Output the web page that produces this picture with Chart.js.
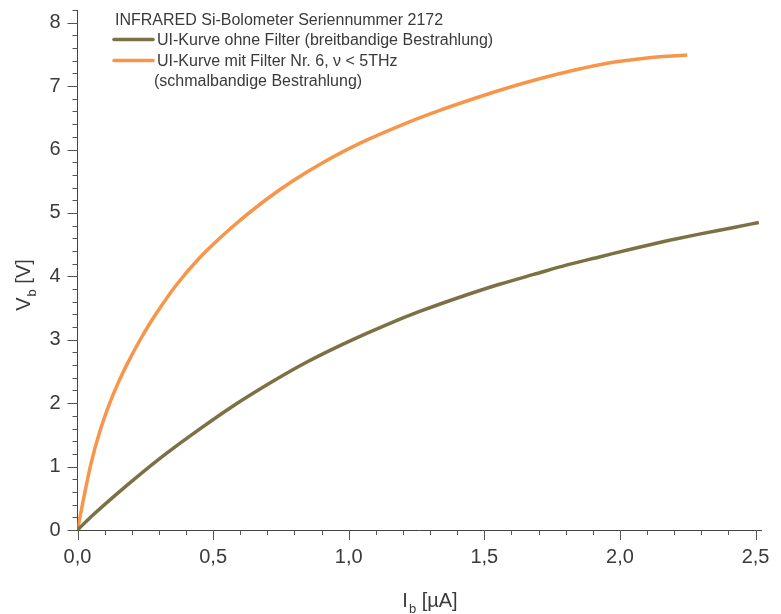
<!DOCTYPE html>
<html>
<head>
<meta charset="utf-8">
<script src="https://cdn.jsdelivr.net/npm/chart.js@4/dist/chart.umd.min.js"></script>
<style>
  html, body { margin: 0; padding: 0; background: #fff; }
  #wrap { width: 781px; height: 614px; }
</style>
</head>
<body>
<div id="wrap"><canvas id="ui"></canvas></div>
<script>
// Messwerte: I_b in µA, V_b in V
const currentBroad = [0, 0.058, 0.181, 0.304, 0.427, 0.575, 0.722, 0.846, 0.993, 1.141, 1.264, 1.436, 1.559, 1.682, 1.805, 1.928, 2.051, 2.174, 2.297, 2.42, 2.512];
const voltageBroad = [0, 0.24, 0.70, 1.13, 1.52, 1.96, 2.35, 2.65, 2.96, 3.24, 3.45, 3.71, 3.88, 4.03, 4.18, 4.31, 4.44, 4.56, 4.67, 4.77, 4.85];

const currentFilter = [0, 0.025, 0.05, 0.08, 0.117, 0.15, 0.181, 0.231, 0.27, 0.304, 0.36, 0.452, 0.563, 0.686, 0.796, 0.92, 1.042, 1.215, 1.338, 1.46, 1.584, 1.707, 1.83, 1.953, 2.076, 2.17, 2.248];
const voltageFilter = [0, 0.55, 1.05, 1.52, 1.98, 2.32, 2.60, 3.0, 3.28, 3.50, 3.84, 4.30, 4.75, 5.18, 5.51, 5.83, 6.10, 6.42, 6.62, 6.80, 6.97, 7.12, 7.25, 7.36, 7.43, 7.47, 7.49];

const legendTitle = "INFRARED Si-Bolometer Seriennummer 2172";
const seriesLabels = ["UI-Kurve ohne Filter (breitbandige Bestrahlung)", "UI-Kurve mit Filter Nr. 6, \u03bd < 5THz"];
const seriesLabelExtra = "(schmalbandige Bestrahlung)";
const colors = ["#7b7144", "#f7964a"];

const FONT = '"Liberation Sans", Arial, sans-serif';
const TEXT = "#3a3a3a";

const toPoints = (xs, ys) => xs.map((x, i) => ({ x: x, y: ys[i] }));

// Achsenstriche (Haupt- und Nebenteilung) selbst zeichnen
const tickMarks = {
  id: "tickMarks",
  afterDraw(chart) {
    const { ctx, scales: { x, y } } = chart;
    ctx.save();
    ctx.strokeStyle = "#555";
    ctx.lineWidth = 1;
    ctx.beginPath();
    for (let i = 0; i <= 25; i++) {
      const px = Math.round(x.getPixelForValue(i / 10)) + 0.5;
      const len = i % 5 === 0 ? 10 : 5;
      ctx.moveTo(px, y.bottom);
      ctx.lineTo(px, y.bottom + len);
    }
    for (let i = 0; i <= 41; i++) {
      const py = Math.round(y.getPixelForValue(i / 5)) + 0.5;
      const len = i % 5 === 0 ? 10 : 5;
      ctx.moveTo(x.left, py);
      ctx.lineTo(x.left - len, py);
    }
    ctx.stroke();
    ctx.restore();
  }
};

// Achsentitel mit Index und Legende
const labels = {
  id: "labels",
  afterDraw(chart) {
    const ctx = chart.ctx;
    ctx.save();
    ctx.fillStyle = TEXT;
    ctx.textBaseline = "alphabetic";

    const subTitle = (main, sub, rest) => {
      ctx.font = "20px " + FONT;
      const w1 = ctx.measureText(main).width;
      const w3 = ctx.measureText(rest).width;
      ctx.font = "13px " + FONT;
      const w2 = ctx.measureText(sub).width;
      const total = w1 + 1 + w2 + w3;
      let cx = -total / 2;
      ctx.font = "20px " + FONT;
      ctx.fillText(main, cx, 0);
      cx += w1 + 1;
      ctx.font = "13px " + FONT;
      ctx.fillText(sub, cx, 6);
      cx += w2;
      ctx.font = "20px " + FONT;
      ctx.fillText(rest, cx, 0);
    };

    ctx.save();
    ctx.translate(430, 607);
    subTitle("I", "b", " [\u00b5A]");
    ctx.restore();

    ctx.save();
    ctx.translate(30, 285);
    ctx.rotate(-Math.PI / 2);
    subTitle("V", "b", " [V]");
    ctx.restore();

    ctx.font = "16px " + FONT;
    ctx.fillText(legendTitle, 115, 25);
    ctx.fillText(seriesLabels[0], 157, 45);
    ctx.fillText(seriesLabels[1], 157, 65.5);
    ctx.fillText(seriesLabelExtra, 154, 86);

    ctx.lineWidth = 3.5;
    ctx.lineCap = "round";
    [39.5, 60.5].forEach((ly, i) => {
      ctx.strokeStyle = colors[i];
      ctx.beginPath();
      ctx.moveTo(114, ly);
      ctx.lineTo(153, ly);
      ctx.stroke();
    });
    ctx.restore();
  }
};

const tickFont = { family: FONT, size: 20 };

new Chart(document.getElementById("ui"), {
  type: "scatter",
  data: {
    datasets: [
      {
        label: seriesLabels[0],
        data: toPoints(currentBroad, voltageBroad),
        borderColor: colors[0],
        borderWidth: 3.5,
        showLine: true,
        pointRadius: 0,
        cubicInterpolationMode: "monotone"
      },
      {
        label: seriesLabels[1],
        data: toPoints(currentFilter, voltageFilter),
        borderColor: colors[1],
        borderWidth: 3.5,
        showLine: true,
        pointRadius: 0,
        cubicInterpolationMode: "monotone"
      }
    ]
  },
  options: {
    responsive: true,
    maintainAspectRatio: false,
    animation: false,
    layout: { padding: { top: 10, right: 20, left: 0, bottom: 0 } },
    plugins: { legend: { display: false }, tooltip: { enabled: false } },
    scales: {
      x: {
        type: "linear",
        min: 0,
        max: 2.52,
        grid: { display: false, drawTicks: false },
        border: { display: true, color: "#444", width: 1 },
        ticks: {
          stepSize: 0.5,
          includeBounds: false,
          padding: 15,
          color: TEXT,
          font: tickFont,
          maxRotation: 0,
          callback: v => v.toFixed(1).replace(".", ",")
        },
        afterFit: s => { s.height = 84; s.paddingLeft = 0; s.paddingRight = 0; }
      },
      y: {
        type: "linear",
        min: 0,
        max: 8.2,
        grid: { display: false, drawTicks: false },
        border: { display: true, color: "#444", width: 1 },
        ticks: {
          stepSize: 1,
          includeBounds: false,
          padding: 17,
          color: TEXT,
          font: tickFont,
          callback: v => String(v)
        },
        afterFit: s => { s.width = 77.5; s.paddingTop = 0; s.paddingBottom = 0; }
      }
    }
  },
  plugins: [tickMarks, labels]
});
</script>
</body>
</html>
